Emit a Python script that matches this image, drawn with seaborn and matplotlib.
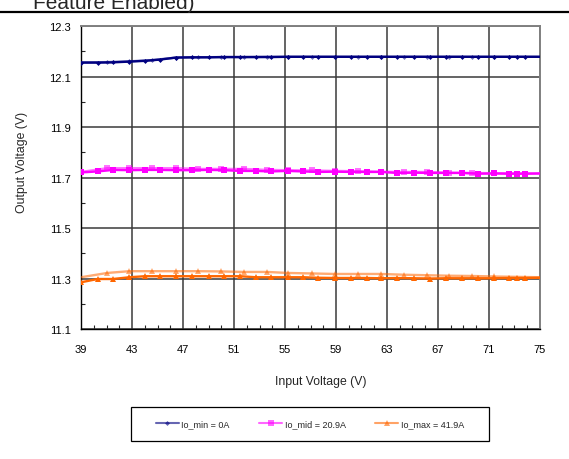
import matplotlib
matplotlib.use("Agg")
import matplotlib.pyplot as plt
from matplotlib.lines import Line2D
from matplotlib.patches import Rectangle
from matplotlib.ticker import FixedLocator, FormatStrFormatter
import pandas as pd
import seaborn as sns

# input voltage steps of the two sweeps
VIN_A = [39, 40.3, 41.5, 42.8, 44.0, 45.2, 46.45, 47.7, 49.0, 50.2, 51.5, 52.7,
         53.9, 55.2, 56.4, 57.6, 58.9, 60.2, 61.4, 62.5, 63.8, 65.1, 66.4, 67.6,
         68.9, 70.1, 71.4, 72.6, 73.2, 73.8, 75]
VIN_B = [39, 41.06, 42.8, 44.6, 46.45, 48.15, 50.0, 51.8, 53.6, 55.2, 57.1,
         58.9, 60.7, 62.5, 64.3, 66.1, 67.9, 69.7, 71.4, 75]

IO_MIN_A = [12.155, 12.155, 12.156, 12.159, 12.162, 12.167, 12.175, 12.176,
            12.176, 12.177, 12.177, 12.177, 12.177, 12.178, 12.178, 12.178,
            12.178, 12.178, 12.178, 12.178, 12.178, 12.178, 12.178, 12.178,
            12.178, 12.178, 12.178, 12.178, 12.178, 12.178, 12.178]
IO_MIN_B = [12.156, 12.157, 12.160, 12.165, 12.175, 12.176, 12.177, 12.177,
            12.178, 12.178, 12.178, 12.178, 12.178, 12.178, 12.178, 12.178,
            12.178, 12.178, 12.178, 12.178]

IO_MID_A = [11.720, 11.724, 11.730, 11.729, 11.730, 11.730, 11.729, 11.729,
            11.730, 11.729, 11.726, 11.726, 11.724, 11.726, 11.724, 11.722,
            11.723, 11.722, 11.722, 11.722, 11.718, 11.719, 11.718, 11.718,
            11.718, 11.715, 11.716, 11.715, 11.715, 11.715, 11.716]
IO_MID_B = [11.722, 11.737, 11.737, 11.737, 11.737, 11.734, 11.734, 11.734,
            11.730, 11.729, 11.728, 11.726, 11.725, 11.723, 11.722, 11.722,
            11.719, 11.718, 11.717, 11.716]

IO_MAX_A = [11.285, 11.298, 11.298, 11.305, 11.309, 11.309, 11.309, 11.309,
            11.309, 11.309, 11.309, 11.305, 11.305, 11.305, 11.305, 11.303,
            11.302, 11.302, 11.302, 11.301, 11.302, 11.301, 11.300, 11.301,
            11.301, 11.301, 11.301, 11.302, 11.302, 11.302, 11.303]
IO_MAX_B = [11.305, 11.322, 11.329, 11.329, 11.329, 11.329, 11.328, 11.326,
            11.326, 11.322, 11.320, 11.318, 11.318, 11.318, 11.315, 11.313,
            11.311, 11.310, 11.308, 11.305]

X_TICKS = [39, 43, 47, 51, 55, 59, 63, 67, 71, 75]
X_MINOR = list(range(39, 76))
Y_TICKS = [11.1, 11.3, 11.5, 11.7, 11.9, 12.1, 12.3]
Y_MINOR = [11.2, 11.4, 11.6, 11.8, 12.0, 12.2]

LABELS = ["Io_min = 0A", "Io_mid = 20.9A", "Io_max = 41.9A"]
COLORS = ["#000080", "#FF00FF", "#FF6600"]
MARKERS = ["D", "s", "^"]
MSIZES = [2.5, 4, 4.5]

sns.set_style("white")
plt.rcParams["font.family"] = ["Liberation Sans", "DejaVu Sans"]

fig = plt.figure(figsize=(5.69, 4.60), dpi=100)
ax = fig.add_axes([0.1424, 0.2826, 0.8066, 0.6587])

series = [(IO_MIN_A, IO_MIN_B), (IO_MID_A, IO_MID_B), (IO_MAX_A, IO_MAX_B)]
for (va, vb), col, mk, ms in zip(series, COLORS, MARKERS, MSIZES):
    df_a = pd.DataFrame({"vin": VIN_A, "vout": va})
    df_b = pd.DataFrame({"vin": VIN_B, "vout": vb})
    sns.lineplot(data=df_a, x="vin", y="vout", ax=ax, color=col, lw=1.7,
                 marker=mk, markersize=ms, markeredgewidth=0,
                 markevery=list(range(len(VIN_A) - 1)), zorder=4)
    sns.lineplot(data=df_b, x="vin", y="vout", ax=ax, color=col, lw=1.7,
                 alpha=0.55, marker=mk, markersize=ms, markeredgewidth=0,
                 markevery=list(range(1, len(VIN_B) - 1)), zorder=3)

ax.set_xlim(39, 75)
ax.set_ylim(11.1, 12.3)
ax.xaxis.set_major_locator(FixedLocator(X_TICKS))
ax.xaxis.set_minor_locator(FixedLocator(X_MINOR))
ax.yaxis.set_major_locator(FixedLocator(Y_TICKS))
ax.yaxis.set_minor_locator(FixedLocator(Y_MINOR))
ax.yaxis.set_major_formatter(FormatStrFormatter("%.1f"))
ax.grid(True, which="major", color="#3a3a3a", lw=1.1)
ax.tick_params(axis="y", which="major", labelsize=8, length=4.3, width=0.8,
               direction="out", colors="black", pad=3)
ax.tick_params(axis="x", which="major", labelsize=8, length=6, width=0.8,
               direction="inout", colors="black", pad=7.5)
ax.tick_params(axis="x", which="minor", length=3, width=0.8,
               direction="in", bottom=True)
ax.tick_params(axis="y", which="minor", length=3, width=0.8,
               direction="in", left=True)
for side in ["top", "right"]:
    ax.spines[side].set_color("#808080")
    ax.spines[side].set_linewidth(1.4)
for side in ["left", "bottom"]:
    ax.spines[side].set_color("black")
    ax.spines[side].set_linewidth(1.0)

ax.set_xlabel("Input Voltage (V)", fontsize=8.8)
ax.set_ylabel("Output Voltage (V)", fontsize=8.8)
ax.xaxis.set_label_coords(0.522, -0.172)
ax.xaxis.label.set_va("center")
ax.yaxis.set_label_coords(-0.128, 0.554)
ax.yaxis.label.set_va("center")

# legend box drawn by hand so the padding matches
fig.add_artist(Rectangle((0.2302, 0.0391), 0.6292, 0.0739,
                         transform=fig.transFigure, facecolor="white",
                         edgecolor="black", lw=0.9))
handles = [Line2D([0], [0], color=c, alpha=0.6, lw=1.5, marker=m,
                  markersize=s, markerfacecolor=c, markeredgewidth=0)
           for c, m, s in zip(COLORS, MARKERS, MSIZES)]
fig.legend(handles, LABELS, loc="center", ncol=3, fontsize=6.5,
           bbox_to_anchor=(0.5448, 0.0761), frameon=False,
           handlelength=2.5, columnspacing=3.3, handletextpad=0.3)

# cropped title above the chart
fig.text(0.058, 0.981, "Feature Enabled)", fontsize=15, ha="left",
         va="baseline")
fig.add_artist(Line2D([0.0, 1.0], [0.972, 0.972], color="black", lw=1.6,
                      transform=fig.transFigure))

fig.savefig("out.png", dpi=100)
